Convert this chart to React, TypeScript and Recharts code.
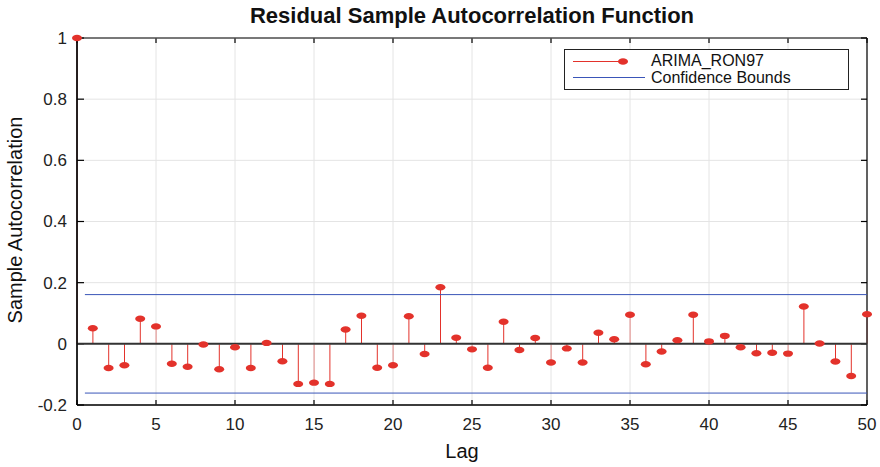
import {
  ComposedChart,
  Bar,
  Line,
  XAxis,
  YAxis,
  ReferenceLine,
} from 'recharts';

// lags and residual sample autocorrelation values
const lags = [
  0, 1, 2, 3, 4, 5, 6, 7, 8, 9, 10, 11, 12, 13, 14, 15, 16, 17, 18, 19, 20, 21, 22, 23, 24, 25,
  26, 27, 28, 29, 30, 31, 32, 33, 34, 35, 36, 37, 38, 39, 40, 41, 42, 43, 44, 45, 46, 47, 48, 49, 50,
];
const acfValues = [
  1, 0.051, -0.079, -0.07, 0.082, 0.057, -0.065, -0.075, -0.002, -0.083, -0.011, -0.079, 0.003,
  -0.057, -0.131, -0.127, -0.131, 0.047, 0.092, -0.078, -0.07, 0.09, -0.033, 0.185, 0.02, -0.018,
  -0.078, 0.072, -0.02, 0.019, -0.061, -0.015, -0.061, 0.036, 0.015, 0.095, -0.067, -0.025, 0.012,
  0.095, 0.008, 0.026, -0.011, -0.031, -0.029, -0.032, 0.122, 0.001, -0.058, -0.105, 0.097,
];
const confBound = 0.161;
const boundStart = 0.5;
const xDomain = [0, 50];
const yDomain = [-0.2, 1];
const xTicks = [0, 5, 10, 15, 20, 25, 30, 35, 40, 45, 50];
const yTicks = [-0.2, 0, 0.2, 0.4, 0.6, 0.8, 1];

const RED = '#e3322b';
const BLUE = '#3a55b8';
const GRID = '#e4e4e4';
const FONT = '"Liberation Sans", Arial, Helvetica, sans-serif';

const data = lags.map((lag, i) => ({ lag, acf: acfValues[i] }));

function Stem(props: any) {
  const { x, y, width, height } = props;
  const cx = x + width / 2;
  return <line x1={cx} x2={cx} y1={y} y2={y + height} stroke={RED} strokeWidth={1} />;
}

function Marker(props: any) {
  const { cx, cy, index } = props;
  return <ellipse key={`m-${index}`} cx={cx} cy={cy} rx={5} ry={3.2} fill={RED} />;
}

// grid line plus short inward tick marks at both ends (matlab box style)
function GridWithTicks(props: any) {
  const { x1, y1, x2, y2 } = props;
  if (x1 === x2) {
    const top = Math.min(y1, y2);
    const bottom = Math.max(y1, y2);
    return (
      <g>
        <line x1={x1} x2={x1} y1={top} y2={bottom} stroke={GRID} strokeWidth={1} />
        <line x1={x1} x2={x1} y1={top} y2={top + 5} stroke="#000" strokeWidth={1.2} />
        <line x1={x1} x2={x1} y1={bottom} y2={bottom - 5} stroke="#000" strokeWidth={1.2} />
      </g>
    );
  }
  const left = Math.min(x1, x2);
  const right = Math.max(x1, x2);
  return (
    <g>
      <line x1={left} x2={right} y1={y1} y2={y1} stroke={GRID} strokeWidth={1} />
      <line x1={left} x2={left + 7} y1={y1} y2={y1} stroke="#000" strokeWidth={1.2} />
      <line x1={right} x2={right - 6} y1={y1} y2={y1} stroke="#000" strokeWidth={1.2} />
    </g>
  );
}

function BottomLabel(props: any) {
  const { x, y, payload } = props;
  return (
    <text x={x} y={y} dy="0.71em" textAnchor="middle" fontSize={17} fill="#222" fontFamily={FONT}>
      {payload.value}
    </text>
  );
}

function LeftLabel(props: any) {
  const { x, y, payload } = props;
  return (
    <text x={x} y={y} dy="0.35em" textAnchor="end" fontSize={17} fill="#222" fontFamily={FONT}>
      {payload.value}
    </text>
  );
}

export default function App() {
  return (
    <div style={{ position: 'absolute', left: 0, top: 0, width: 880, height: 467, background: '#fff', fontFamily: FONT }}>
      <div
        style={{
          position: 'absolute',
          left: 0,
          width: 944,
          top: 3,
          textAlign: 'center',
          fontSize: 22,
          fontWeight: 'bold',
          color: '#111',
        }}
      >
        Residual Sample Autocorrelation Function
      </div>

      <ComposedChart
        width={880}
        height={467}
        data={data}
        margin={{ top: 38, right: 13, left: 0, bottom: 0 }}
      >
        <XAxis
          dataKey="lag"
          type="number"
          domain={xDomain}
          ticks={xTicks}
          height={62}
          axisLine={{ stroke: '#000', strokeWidth: 1.2 }}
          tickLine={false}
          tickSize={0}
          tickMargin={13}
          tick={<BottomLabel />}
        />
        <YAxis
          type="number"
          domain={yDomain}
          ticks={yTicks}
          width={77}
          axisLine={{ stroke: '#000', strokeWidth: 1.2 }}
          tickLine={false}
          tickSize={0}
          tickMargin={10}
          tick={<LeftLabel />}
        />
        {xTicks.map((t) => (
          <ReferenceLine key={`xg-${t}`} x={t} ifOverflow="visible" shape={GridWithTicks} />
        ))}
        {yTicks.map((t) => (
          <ReferenceLine key={`yg-${t}`} y={t} ifOverflow="visible" shape={GridWithTicks} />
        ))}
        {/* plot box */}
        <ReferenceLine x={xDomain[0]} ifOverflow="visible" stroke="#000" strokeWidth={1.2} />
        <ReferenceLine x={xDomain[1]} ifOverflow="visible" stroke="#000" strokeWidth={1.2} />
        <ReferenceLine y={yDomain[0]} ifOverflow="visible" stroke="#000" strokeWidth={1.2} />
        <ReferenceLine y={yDomain[1]} ifOverflow="visible" stroke="#000" strokeWidth={1.2} />
        <ReferenceLine y={0} stroke="#333" strokeWidth={2} />
        <ReferenceLine
          segment={[
            { x: boundStart, y: confBound },
            { x: xDomain[1], y: confBound },
          ]}
          stroke={BLUE}
          strokeWidth={1}
        />
        <ReferenceLine
          segment={[
            { x: boundStart, y: -confBound },
            { x: xDomain[1], y: -confBound },
          ]}
          stroke={BLUE}
          strokeWidth={1}
        />
        <Bar dataKey="acf" barSize={2} shape={<Stem />} isAnimationActive={false} />
        <Line
          dataKey="acf"
          stroke="none"
          dot={Marker}
          activeDot={false}
          isAnimationActive={false}
        />
      </ComposedChart>

      <div
        style={{
          position: 'absolute',
          left: 0,
          top: 440,
          width: 924,
          textAlign: 'center',
          fontSize: 20,
          color: '#111',
        }}
      >
        Lag
      </div>
      <div
        style={{
          position: 'absolute',
          left: 15,
          top: 220,
          transform: 'translate(-50%, -50%) rotate(-90deg)',
          whiteSpace: 'nowrap',
          fontSize: 20,
          color: '#111',
        }}
      >
        Sample Autocorrelation
      </div>

      <div
        style={{
          position: 'absolute',
          left: 564,
          top: 49,
          width: 283,
          height: 39,
          border: '1px solid #222',
          background: '#fff',
          fontSize: 16,
          color: '#111',
        }}
      >
        <svg width={80} height={39} style={{ position: 'absolute', left: 0, top: 0 }}>
          <line x1={8} x2={58} y1={11.5} y2={11.5} stroke={RED} strokeWidth={1} />
          <ellipse cx={58} cy={11.5} rx={5} ry={3.2} fill={RED} />
          <line x1={8} x2={81} y1={27.5} y2={27.5} stroke={BLUE} strokeWidth={1} />
        </svg>
        <div style={{ position: 'absolute', left: 86, top: 2, lineHeight: '17px' }}>ARIMA_RON97</div>
        <div style={{ position: 'absolute', left: 86, top: 19, lineHeight: '17px' }}>Confidence Bounds</div>
      </div>
    </div>
  );
}
